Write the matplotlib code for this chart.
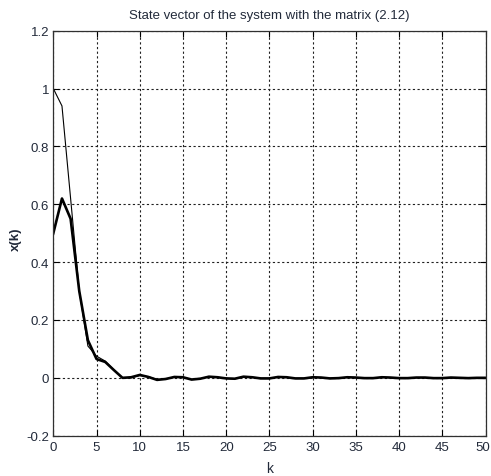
import matplotlib
matplotlib.use("Agg")
import matplotlib.pyplot as plt
import matplotlib.transforms as mtransforms

# ==========================================
# DATA
# ==========================================
k = list(range(0, 51))

# thin line: first state component
x1 = [1.00, 0.94, 0.62, 0.30, 0.11, 0.075, 0.058, 0.028, 0.000, 0.000,
      0.008, 0.004, -0.006, -0.004, 0.003, 0.002, -0.005, -0.003, 0.004, 0.002,
      -0.002, -0.003, 0.004, 0.002, -0.002, -0.002, 0.003, 0.002, -0.002, -0.002,
      0.002, 0.001, -0.002, -0.001, 0.002, 0.001, -0.001, -0.001, 0.002, 0.001,
      -0.001, -0.001, 0.001, 0.001, -0.001, -0.001, 0.001, 0.000, -0.001, 0.000,
      0.000]

# thick line: second state component
x2 = [0.50, 0.62, 0.55, 0.30, 0.13, 0.065, 0.055, 0.027, 0.000, 0.002,
      0.010, 0.003, -0.007, -0.004, 0.003, 0.002, -0.006, -0.003, 0.004, 0.002,
      -0.002, -0.003, 0.004, 0.002, -0.002, -0.002, 0.003, 0.002, -0.002, -0.002,
      0.002, 0.001, -0.002, -0.001, 0.002, 0.001, -0.001, -0.001, 0.002, 0.001,
      -0.001, -0.001, 0.001, 0.001, -0.001, -0.001, 0.001, 0.000, -0.001, 0.000,
      0.000]

x_ticks = list(range(0, 51, 5))
y_ticks = [-0.2, 0, 0.2, 0.4, 0.6, 0.8, 1.0, 1.2]
y_tick_labels = ["-0.2", "0", "0.2", "0.4", "0.6", "0.8", "1", "1.2"]

TITLE = "State vector of the system with the matrix (2.12)"

# ==========================================

TEXT_COLOR = "#222a3a"
plt.rcParams["font.family"] = ["Liberation Sans", "DejaVu Sans"]

fig = plt.figure(figsize=(4.91, 4.77), dpi=100)
ax = fig.add_axes([0.1086, 0.0845, 0.8802, 0.849])

# the two state components
ax.plot(k, x1, color="black", linewidth=0.8)
ax.plot(k, x2, color="black", linewidth=1.9)

ax.set_xlim(0, 50)
ax.set_ylim(-0.2, 1.2)
ax.set_xticks(x_ticks)
ax.set_yticks(y_ticks)
ax.set_yticklabels(y_tick_labels)

# matlab-like grid and ticks
ax.grid(True, color="#202020", linestyle=(0, (2, 2.2)), linewidth=0.8)
ax.tick_params(direction="in", top=True, right=True, length=4, width=0.8,
               labelsize=9.5, labelcolor=TEXT_COLOR)
ax.tick_params(axis="x", pad=4)
ax.tick_params(axis="y", pad=3)
for spine in ax.spines.values():
    spine.set_linewidth(0.9)
    spine.set_color("#303030")

# nudge the last x tick label so it stays inside the figure
last_lbl = ax.get_xticklabels()[-1]
last_lbl.set_transform(last_lbl.get_transform() +
                       mtransforms.ScaledTranslation(-3 / 100, 0, fig.dpi_scale_trans))

ax.set_title(TITLE, fontsize=9.5, color=TEXT_COLOR, pad=9)
ax.set_xlabel("k", fontsize=10, color=TEXT_COLOR)
ax.set_ylabel("x(k)", fontsize=9.5, color=TEXT_COLOR, fontweight="bold")
ax.xaxis.set_label_coords(0.5, -0.062)
ax.yaxis.set_label_coords(-0.072, 0.487)

plt.savefig("out.png", dpi=100)
